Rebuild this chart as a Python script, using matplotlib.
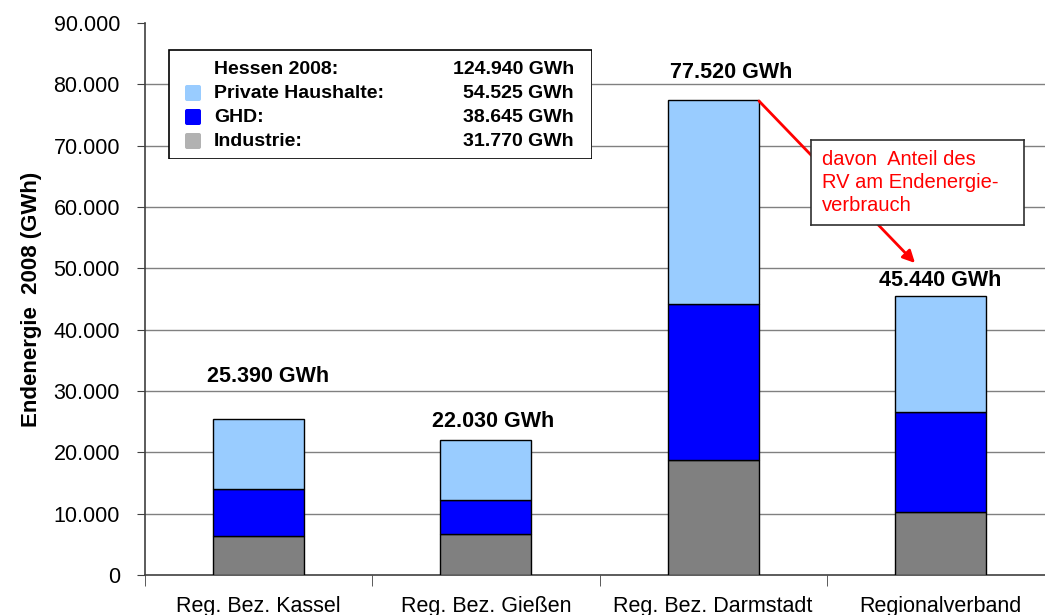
import matplotlib.pyplot as plt
from matplotlib.patches import FancyBboxPatch, Rectangle
import numpy as np

plt.rcParams['font.family'] = ['Liberation Sans', 'DejaVu Sans']

regionen = ['Reg. Bez. Kassel', 'Reg. Bez. Gießen', 'Reg. Bez. Darmstadt', 'Regionalverband']
industrie = [6350, 6660, 18760, 10280]
ghd = [7620, 5560, 25465, 16310]
haushalte = [11420, 9810, 33295, 18850]
summen = ['25.390 GWh', '22.030 GWh', '77.520 GWh', '45.440 GWh']
label_dx = [0.04, 0.03, 0.08, 0.0]
label_y = [32300, 24950, 81850, 47950]

legende = [('Hessen 2008:', '124.940 GWh', None),
           ('Private Haushalte:', '54.525 GWh', '#99ccff'),
           ('GHD:', '38.645 GWh', '#0000ff'),
           ('Industrie:', '31.770 GWh', '#b2b2b2')]

fig = plt.figure(figsize=(10.45, 6.15), dpi=100)
ax = fig.add_axes([145/1045, 1-575/615, 909/1045, 552/615])

x = np.arange(len(regionen))
b = 0.4
ax.bar(x, industrie, b, color='#808080', edgecolor='black', lw=1, zorder=3)
ax.bar(x, ghd, b, bottom=industrie, color='#0000ff', edgecolor='black', lw=1, zorder=3)
unten = np.array(industrie) + np.array(ghd)
ax.bar(x, haushalte, b, bottom=unten, color='#99ccff', edgecolor='black', lw=1, zorder=3)

for i, s in enumerate(summen):
    ax.text(x[i] + label_dx[i], label_y[i], s, ha='center', va='center',
            fontsize=15.5, fontweight='bold', zorder=5)

ax.set_xlim(-0.5, 3.5)
ax.set_ylim(0, 90000)
ax.set_yticks(np.arange(0, 90001, 10000))
ax.set_yticklabels(['0'] + ['%d.000' % (v // 1000) for v in range(10000, 90001, 10000)], fontsize=15.5)
for v in range(10000, 80001, 10000):
    ax.axhline(v, color='#808080', lw=1, zorder=1)

ax.set_xticks(x)
ax.set_xticklabels(regionen, fontsize=15.5)
ax.set_xticks(np.arange(-0.5, 3.6, 1), minor=True)
ax.tick_params(axis='x', which='major', length=0, pad=15)
ax.tick_params(axis='x', which='minor', length=8, color='#404040')
ax.tick_params(axis='y', length=6, color='#404040', pad=12)
for sp in ['top', 'right']:
    ax.spines[sp].set_visible(False)
for sp in ['left', 'bottom']:
    ax.spines[sp].set_color('#404040')
    ax.spines[sp].set_linewidth(1.2)
ax.set_ylabel('Endenergie  2008 (GWh)', fontsize=16, fontweight='bold', labelpad=8)

# Legende als Kasten
bx0, by0 = 168/1045, 1 - 159/615
ax_leg = fig.add_axes([bx0, by0, (592-168)/1045, (159-49)/615])
ax_leg.set_xlim(0, 424)
ax_leg.set_ylim(110, 0)
ax_leg.axis('off')
ax_leg.add_patch(Rectangle((0.5, 0.5), 423, 109, facecolor='white', edgecolor='black', lw=1.2))
for i, (name, wert, farbe) in enumerate(legende):
    yy = 20 + i * 24
    if farbe:
        ax_leg.add_patch(FancyBboxPatch((17, yy - 8), 16, 16, boxstyle='round,pad=0,rounding_size=2',
                                        facecolor=farbe, edgecolor='none'))
    ax_leg.text(46, yy, name, fontsize=14, fontweight='bold', va='center')
    ax_leg.text(406, yy, wert, fontsize=14, fontweight='bold', va='center', ha='right')

# Hinweis mit Pfeil
ax.annotate('', xy=(915, 615-263), xycoords='figure pixels', xytext=(759, 615-101),
            textcoords='figure pixels',
            arrowprops=dict(arrowstyle='-|>', color='red', lw=2, mutation_scale=18,
                            shrinkA=0, shrinkB=0), zorder=6)
ax_box = fig.add_axes([811/1045, 1-225/615, (1024-811)/1045, (225-140)/615])
ax_box.set_xlim(0, 213)
ax_box.set_ylim(85, 0)
ax_box.set_xticks([])
ax_box.set_yticks([])
for sp in ax_box.spines.values():
    sp.set_color('#303030')
    sp.set_linewidth(1.2)
ax_box.text(11, 10, 'davon  Anteil des\nRV am Endenergie-\nverbrauch', color='red',
            fontsize=14.5, va='top', linespacing=1.28)

fig.savefig('out.png', dpi=100)
